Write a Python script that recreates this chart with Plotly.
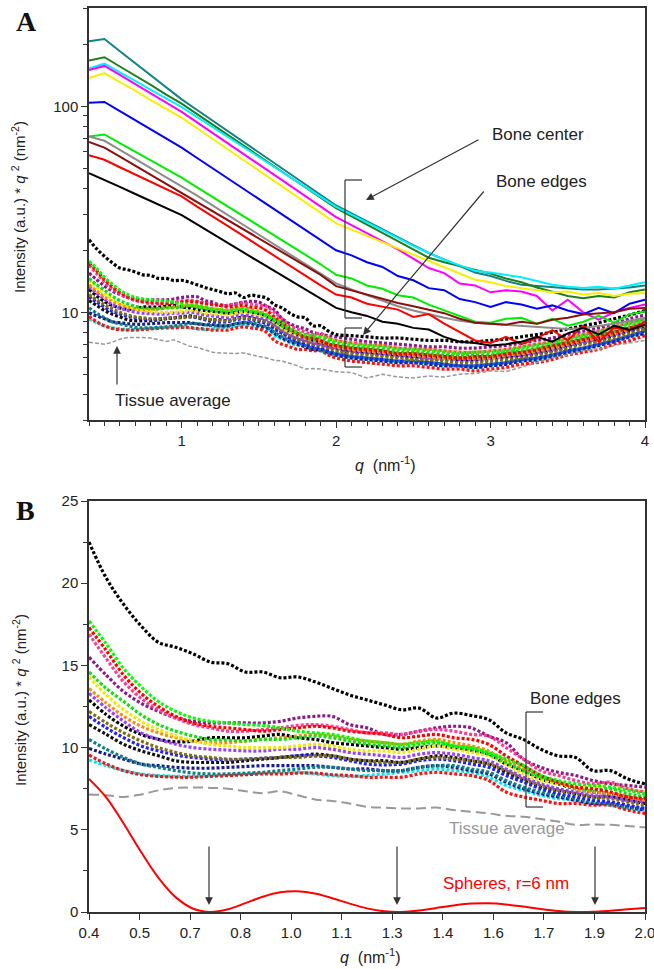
import plotly.graph_objects as go

# ---------------- data ----------------
q_line = [0.4, 0.5, 0.6, 0.7, 0.8, 0.9, 1.0, 1.1, 1.2, 1.3, 1.4, 1.5, 1.6, 1.7, 1.8, 1.9, 2.0,
          2.1, 2.2, 2.3, 2.4, 2.5, 2.6, 2.7, 2.8, 2.9, 3.0, 3.1, 3.2, 3.3, 3.4, 3.5, 3.6, 3.7, 3.8, 3.9, 4.0]

center_teal = [207, 212, 185, 162, 141, 124, 108, 95.9, 85.2, 75.7, 67.2, 59.7, 53.1, 47.1, 41.9, 37.2, 33.0,
               30.2, 27.7, 25.3, 23.2, 21.2, 19.4, 18.0, 16.7, 15.6, 15.0, 14.2, 13.6, 13.4, 13.2, 13.0, 12.9, 12.9, 13.0, 13.2, 13.5]
center_darkgreen = [167, 173, 156, 141, 127, 114, 103, 91.6, 81.5, 72.5, 64.5, 57.4, 51.1, 45.4, 40.4, 36.0, 32.0,
                    29.2, 26.6, 24.3, 22.1, 20.2, 18.4, 17.5, 16.8, 16.0, 15.4, 14.6, 14.0, 13.2, 12.6, 12.0, 11.7, 12.0, 11.8, 12.5, 12.9]
center_cyan = [153, 161, 146, 133, 120, 109, 99, 88.6, 79.3, 70.9, 63.4, 56.7, 50.8, 45.4, 40.6, 36.4, 32.5,
               29.8, 27.3, 25.0, 22.9, 21.0, 19.4, 18.0, 16.9, 15.9, 15.6, 15.2, 14.8, 14.2, 13.6, 13.3, 13.1, 13.3, 13.0, 13.5, 14.0]
center_magenta = [150, 157, 142, 128, 115, 104, 94, 83.6, 74.3, 66.1, 58.8, 52.2, 46.4, 41.3, 36.7, 32.6, 29.0,
                  26.5, 24.2, 22.0, 20.2, 18.2, 16.4, 15.5, 13.8, 13.5, 12.5, 12.8, 12.6, 12.0, 10.2, 11.5, 10.0, 9.2, 10.0, 10.5, 10.9]
center_yellow = [137, 145, 131, 119, 107, 97, 88, 78.2, 69.5, 61.7, 54.8, 48.7, 43.3, 38.5, 34.2, 30.4, 27.0,
                 25.2, 23.5, 21.9, 20.4, 19.0, 17.7, 16.6, 15.5, 14.4, 14.0, 13.4, 13.1, 12.8, 12.5, 12.6, 12.2, 12.4, 12.0, 12.3, 12.4]
center_blue = [104, 105, 94.8, 85.6, 77.3, 69.7, 63, 56.1, 50.0, 44.6, 39.8, 35.4, 31.6, 28.2, 25.1, 22.4, 20.0,
               18.9, 17.5, 16.6, 15.0, 14.3, 13.1, 12.8, 11.6, 11.2, 10.6, 11.2, 10.9, 10.4, 10.8, 10.2, 9.8, 10.5, 9.9, 11.0, 11.5]
center_green = [71.4, 73, 66.2, 60.1, 54.6, 49.5, 45, 40.4, 36.3, 32.6, 29.3, 26.3, 23.6, 21.2, 19.1, 17.1, 15.2,
                14.6, 13.5, 13.0, 12.1, 11.8, 10.9, 10.2, 9.6, 9.0, 8.9, 9.3, 9.4, 8.8, 9.3, 8.6, 9.0, 9.6, 8.9, 9.8, 10.1]
center_gray = [71.4, 68, 61.5, 55.6, 50.2, 45.4, 41, 36.8, 33.0, 29.6, 26.6, 23.8, 21.4, 19.2, 17.2, 15.4, 13.8,
               12.9, 12.1, 11.4, 10.7, 10.2, 9.75, 9.4, 9.1, 8.9, 8.8, 8.7, 8.55, 8.5, 8.4, 8.3, 8.4, 8.6, 8.8, 9.1, 9.4]
center_maroon = [67.1, 63, 56.9, 51.4, 46.5, 42.0, 38, 34.3, 31.0, 28.0, 25.3, 22.9, 20.6, 18.7, 16.9, 15.2, 13.4,
                 12.8, 12.2, 11.6, 11.1, 10.7, 10.3, 9.9, 9.3, 8.9, 8.8, 8.7, 9.0, 8.8, 9.2, 9.4, 9.75, 9.9, 10.0, 10.4, 10.5]
center_red = [57.8, 55, 50.6, 46.6, 43.0, 39.6, 36.5, 32.6, 29.3, 26.2, 23.5, 21.0, 18.8, 16.9, 15.1, 13.5, 12.2,
              11.8, 11.0, 10.6, 10.3, 9.5, 9.8, 8.8, 8.0, 7.3, 7.1, 7.6, 7.0, 7.5, 8.2, 7.3, 8.6, 7.2, 8.4, 8.2, 9.0]
center_black = [47.4, 44, 40.6, 37.5, 34.7, 32.0, 29.6, 26.7, 24.0, 21.7, 19.5, 17.6, 15.9, 14.3, 12.9, 11.6, 10.5,
                10.0, 9.6, 9.0, 8.8, 8.4, 8.24, 7.6, 7.2, 7.1, 6.9, 7.0, 7.2, 7.6, 7.2, 7.9, 8.4, 7.8, 8.6, 8.2, 8.7]

q_edge = [0.40, 0.45, 0.50, 0.55, 0.60, 0.65, 0.70, 0.75, 0.80, 0.85, 0.90, 0.95, 1.00, 1.05, 1.10, 1.15,
          1.20, 1.25, 1.30, 1.35, 1.40, 1.45, 1.50, 1.55, 1.60, 1.65, 1.70, 1.75, 1.80, 1.85, 1.90, 1.95, 2.00,
          2.1, 2.2, 2.3, 2.4, 2.5, 2.6, 2.7, 2.8, 2.9, 3.0, 3.1, 3.2, 3.3, 3.4, 3.5, 3.6, 3.7, 3.8, 3.9, 4.0]

edge_black_top = [22.5, 20.3, 18.7, 17.4, 16.4, 16.1, 15.7, 15.2, 15.1, 14.6, 14.6, 14.25, 14.3, 14.0, 13.6, 13.2,
                  12.9, 12.6, 12.3, 12.4, 11.8, 12.1, 11.95, 11.7, 10.9, 10.5, 9.9, 9.5, 9.4, 8.6, 8.6, 8.1, 7.8,
                  7.7, 7.6, 7.5, 7.5, 7.4, 7.3, 7.3, 7.2, 7.2, 7.3, 7.4, 7.6, 7.8, 8.0, 8.3, 8.6, 8.9, 9.3, 9.7, 10.2]
edge_green = [17.7, 16.3, 14.8, 13.7, 12.8, 12.2, 11.8, 11.6, 11.5, 11.4, 11.35, 11.2, 11.0, 10.9, 10.8, 10.6,
              10.4, 10.3, 10.2, 10.3, 10.4, 10.1, 10.0, 9.7, 9.3, 8.9, 8.3, 8.0, 7.8, 7.7, 7.6, 7.4, 7.2,
              7.0, 6.9, 6.8, 6.6, 6.6, 6.5, 6.4, 6.3, 6.4, 6.4, 6.5, 6.7, 6.9, 7.1, 7.4, 7.7, 8.0, 8.4, 8.8, 9.2]
edge_red = [17.3, 15.9, 14.4, 13.3, 12.5, 11.9, 11.5, 11.3, 11.2, 11.1, 11.0, 11.1, 11.2, 11.3, 11.2, 11.0,
            10.9, 10.8, 10.6, 10.7, 10.8, 10.6, 10.5, 10.2, 9.5, 8.9, 8.3, 7.9, 7.6, 7.5, 7.3, 7.0, 6.9,
            6.7, 6.6, 6.5, 6.3, 6.3, 6.2, 6.1, 6.0, 6.1, 6.1, 6.3, 6.4, 6.6, 6.9, 7.1, 7.4, 7.7, 8.0, 8.4, 8.8]
edge_pink = [16.9, 15.4, 14.0, 13.0, 12.3, 11.8, 11.4, 11.2, 11.0, 11.0, 11.1, 11.2, 11.35, 11.4, 11.3, 11.1,
             10.9, 10.9, 10.8, 11.0, 11.1, 11.0, 10.8, 10.7, 10.0, 9.3, 8.6, 8.3, 8.0, 7.8, 7.9, 7.5, 7.3,
             7.1, 7.0, 6.9, 6.7, 6.7, 6.6, 6.5, 6.4, 6.4, 6.5, 6.6, 6.8, 7.0, 7.2, 7.5, 7.8, 8.1, 8.5, 8.9, 9.3]
edge_purple = [15.5, 14.4, 13.4, 12.7, 12.2, 11.8, 11.6, 11.5, 11.5, 11.5, 11.5, 11.6, 11.8, 11.9, 11.9, 11.4,
               11.2, 10.8, 10.8, 11.0, 11.2, 11.3, 11.2, 10.7, 10.3, 9.3, 8.8, 8.5, 8.3, 8.0, 7.8, 7.7, 7.6,
               7.4, 7.2, 7.1, 7.0, 6.9, 6.8, 6.8, 6.7, 6.7, 6.8, 6.9, 7.1, 7.3, 7.5, 7.8, 8.1, 8.4, 8.8, 9.3, 9.7]
edge_lime = [14.6, 13.6, 12.8, 12.0, 11.4, 11.0, 10.7, 10.5, 10.45, 10.4, 10.5, 10.5, 10.6, 10.7, 10.6, 10.4,
             10.2, 10.1, 10.0, 10.2, 10.3, 10.1, 9.9, 9.6, 9.1, 8.6, 8.2, 7.9, 7.6, 7.4, 7.5, 7.2, 7.0,
             6.8, 6.7, 6.6, 6.4, 6.4, 6.3, 6.2, 6.2, 6.2, 6.2, 6.4, 6.5, 6.7, 6.9, 7.2, 7.5, 7.8, 8.1, 8.5, 9.0]
edge_yellow = [14.3, 13.2, 12.3, 11.6, 11.1, 10.7, 10.4, 10.2, 10.1, 10.0, 10.0, 10.0, 10.1, 10.2, 10.1, 9.9,
               9.8, 9.8, 9.7, 9.9, 10.1, 9.9, 9.7, 9.5, 9.0, 8.4, 8.0, 7.8, 7.6, 7.6, 7.8, 7.5, 7.3,
               7.1, 6.9, 6.9, 6.7, 6.6, 6.6, 6.5, 6.4, 6.4, 6.5, 6.6, 6.8, 7.0, 7.2, 7.5, 7.8, 8.1, 8.5, 8.9, 9.3]
edge_orange = [13.6, 12.7, 11.9, 11.3, 10.9, 10.6, 10.4, 10.3, 10.3, 10.4, 10.5, 10.6, 10.7, 10.8, 10.7, 10.5,
               10.4, 10.3, 10.2, 10.4, 10.5, 10.3, 10.1, 9.8, 9.2, 8.7, 8.2, 7.9, 7.5, 7.3, 7.2, 7.0, 6.8,
               6.6, 6.5, 6.4, 6.3, 6.2, 6.1, 6.0, 6.0, 6.0, 6.0, 6.2, 6.3, 6.5, 6.7, 7.0, 7.3, 7.5, 7.9, 8.3, 8.7]
edge_violet = [13.3, 12.4, 11.6, 10.9, 10.5, 10.2, 10.0, 9.9, 9.85, 9.8, 9.8, 9.9, 9.9, 10.0, 9.9, 9.7,
               9.6, 9.5, 9.4, 9.6, 9.7, 9.6, 9.4, 9.2, 8.7, 8.2, 7.8, 7.5, 7.3, 7.1, 7.0, 6.8, 6.7,
               6.5, 6.4, 6.3, 6.2, 6.1, 6.0, 6.0, 5.9, 5.9, 6.0, 6.1, 6.2, 6.4, 6.6, 6.9, 7.2, 7.4, 7.8, 8.2, 8.6]
edge_black2 = [12.9, 12.0, 11.3, 10.8, 10.5, 10.35, 10.4, 10.6, 10.6, 10.6, 10.7, 10.8, 10.6, 10.5, 10.3, 10.2,
               10.1, 10.0, 9.9, 10.0, 10.1, 10.0, 9.85, 9.6, 9.0, 8.6, 8.1, 7.8, 7.5, 7.3, 7.2, 7.0, 6.8,
               6.6, 6.5, 6.4, 6.3, 6.2, 6.1, 6.1, 6.0, 6.0, 6.1, 6.2, 6.3, 6.5, 6.7, 7.0, 7.3, 7.5, 7.9, 8.3, 8.7]
edge_olive = [12.2, 11.5, 10.9, 10.4, 10.0, 9.7, 9.5, 9.4, 9.3, 9.3, 9.35, 9.4, 9.4, 9.5, 9.5, 9.3,
              9.2, 9.1, 9.1, 9.3, 9.4, 9.3, 9.2, 9.0, 8.6, 8.1, 7.7, 7.4, 7.2, 7.0, 6.9, 6.7, 6.5,
              6.3, 6.2, 6.1, 6.0, 5.9, 5.9, 5.8, 5.7, 5.7, 5.8, 5.9, 6.0, 6.2, 6.4, 6.7, 7.0, 7.2, 7.5, 7.9, 8.3]
edge_blue = [11.9, 11.2, 10.6, 10.1, 9.8, 9.55, 9.4, 9.3, 9.25, 9.3, 9.35, 9.4, 9.5, 9.5, 9.4, 9.2,
             9.0, 8.95, 9.0, 9.2, 9.3, 9.2, 9.0, 8.8, 8.3, 7.9, 7.5, 7.2, 7.0, 6.8, 6.7, 6.5, 6.3,
             6.1, 6.0, 5.9, 5.8, 5.7, 5.7, 5.6, 5.5, 5.5, 5.6, 5.7, 5.9, 6.0, 6.2, 6.5, 6.7, 7.0, 7.3, 7.7, 8.1]
edge_black3 = [11.4, 10.8, 10.2, 9.8, 9.5, 9.2, 9.1, 9.1, 9.1, 9.2, 9.3, 9.4, 9.5, 9.6, 9.5, 9.3,
               9.2, 9.2, 9.1, 9.3, 9.5, 9.4, 9.2, 9.0, 8.5, 8.0, 7.6, 7.4, 7.2, 7.0, 7.0, 6.8, 6.6,
               6.4, 6.3, 6.2, 6.1, 6.0, 5.9, 5.9, 5.8, 5.8, 5.9, 6.0, 6.1, 6.3, 6.5, 6.8, 7.1, 7.3, 7.7, 8.1, 8.4]
edge_teal = [10.5, 9.9, 9.4, 9.0, 8.8, 8.6, 8.45, 8.4, 8.4, 8.45, 8.5, 8.6, 8.7, 8.8, 8.8, 8.7,
             8.6, 8.6, 8.6, 8.8, 8.9, 8.9, 8.7, 8.5, 8.0, 7.6, 7.3, 7.1, 6.9, 6.7, 6.6, 6.4, 6.3,
             6.1, 6.0, 5.9, 5.8, 5.8, 5.7, 5.6, 5.5, 5.5, 5.6, 5.7, 5.9, 6.0, 6.2, 6.5, 6.7, 7.0, 7.3, 7.7, 8.1]
edge_navy = [9.95, 9.6, 9.3, 9.0, 8.9, 8.8, 8.75, 8.75, 8.8, 8.85, 8.9, 8.9, 8.9, 8.9, 8.8, 8.7,
             8.7, 8.6, 8.6, 8.8, 8.9, 8.8, 8.6, 8.4, 7.9, 7.5, 7.2, 7.0, 6.8, 6.6, 6.6, 6.4, 6.2,
             6.0, 5.9, 5.8, 5.7, 5.7, 5.6, 5.5, 5.5, 5.4, 5.5, 5.6, 5.8, 5.9, 6.1, 6.4, 6.6, 6.9, 7.2, 7.6, 7.9]
edge_red2 = [9.55, 9.0, 8.6, 8.35, 8.25, 8.2, 8.2, 8.25, 8.3, 8.35, 8.4, 8.4, 8.45, 8.45, 8.35, 8.3,
             8.2, 8.2, 8.2, 8.4, 8.5, 8.4, 8.3, 8.0, 7.3, 7.0, 6.8, 6.6, 6.6, 6.5, 6.5, 6.2, 6.0,
             5.8, 5.7, 5.6, 5.5, 5.5, 5.4, 5.3, 5.3, 5.2, 5.3, 5.4, 5.6, 5.7, 5.9, 6.2, 6.4, 6.6, 7.0, 7.3, 7.7]
edge_cyan = [9.25, 8.9, 8.6, 8.4, 8.3, 8.25, 8.25, 8.3, 8.35, 8.4, 8.45, 8.5, 8.5, 8.4, 8.3, 8.25,
             8.3, 8.4, 8.5, 8.6, 8.7, 8.6, 8.5, 8.2, 7.7, 7.4, 7.1, 6.9, 6.8, 6.6, 6.5, 6.3, 6.2,
             6.0, 5.9, 5.8, 5.7, 5.7, 5.6, 5.5, 5.5, 5.4, 5.5, 5.6, 5.8, 5.9, 6.1, 6.4, 6.6, 6.9, 7.2, 7.6, 7.9]

tissue_average = [7.15, 7.1, 7.0, 7.15, 7.4, 7.55, 7.58, 7.55, 7.5, 7.35, 7.22, 7.35, 7.1, 6.85, 6.75, 6.6,
                  6.4, 6.35, 6.3, 6.3, 6.35, 6.2, 6.1, 6.0, 5.85, 5.8, 5.65, 5.5, 5.3, 5.33, 5.3, 5.23, 5.15,
                  5.1, 4.8, 5.0, 4.85, 4.8, 4.9, 4.85, 5.0, 5.05, 5.2, 5.15, 5.4, 5.7, 6.0, 6.2, 6.5, 6.6, 6.9, 7.1, 7.3]

q_model = q_edge[:33]
spheres_r6 = [8.10, 6.96, 5.37, 3.65, 2.08, 0.89, 0.20, 0.00, 0.17, 0.54, 0.93, 1.20, 1.26, 1.13, 0.84, 0.51,
              0.22, 0.04, 0.00, 0.09, 0.25, 0.40, 0.51, 0.53, 0.46, 0.33, 0.18, 0.06, 0.00, 0.01, 0.08, 0.17, 0.25]

b_tickvals = [0.4, 0.5455, 0.6909, 0.8364, 0.9818, 1.1273, 1.2727, 1.4182, 1.5636, 1.7091, 1.8545, 2.0]
b_ticktext = ["0.4", "0.5", "0.7", "0.8", "1.0", "1.1", "1.3", "1.4", "1.6", "1.7", "1.9", "2.0"]

# ---------------- styling ----------------
center_series = [
    ("teal", center_teal, "#138383"), ("darkgreen", center_darkgreen, "#1f7f1f"),
    ("cyan", center_cyan, "#00f0ff"), ("magenta", center_magenta, "#ff00ff"),
    ("yellow", center_yellow, "#f5f000"), ("blue", center_blue, "#0000ff"),
    ("green", center_green, "#00ee00"), ("gray", center_gray, "#8c8c8c"),
    ("maroon", center_maroon, "#8b1010"), ("red", center_red, "#ff0000"),
    ("black", center_black, "#000000"),
]
edge_series = [
    ("cyan", edge_cyan, "#00e8f0"), ("red2", edge_red2, "#ff1010"), ("navy", edge_navy, "#1a1a90"),
    ("teal", edge_teal, "#108080"), ("black3", edge_black3, "#111111"), ("blue", edge_blue, "#2020ff"),
    ("olive", edge_olive, "#807010"), ("black2", edge_black2, "#000000"), ("violet", edge_violet, "#9a40ff"),
    ("orange", edge_orange, "#ff8a10"), ("yellow", edge_yellow, "#f0e800"), ("lime", edge_lime, "#10e010"),
    ("purple", edge_purple, "#8a1a8a"), ("pink", edge_pink, "#ff3a90"), ("red", edge_red, "#ff0000"),
    ("green", edge_green, "#00ff00"), ("black_top", edge_black_top, "#000000"),
]

FONT = "Liberation Sans, Arial, sans-serif"
fig = go.Figure()

# Panel A: edges (dots)
for name, vals, col in edge_series:
    fig.add_trace(go.Scatter(x=q_edge, y=vals, mode="lines", xaxis="x", yaxis="y",
                             line=dict(color=col, width=3.2, dash="3px,2px", shape="spline"),
                             showlegend=False, hoverinfo="skip"))
fig.add_trace(go.Scatter(x=q_edge, y=tissue_average, mode="lines", xaxis="x", yaxis="y",
                         line=dict(color="#999999", width=1.5, dash="4px,2px"), showlegend=False))
for name, vals, col in center_series:
    fig.add_trace(go.Scatter(x=q_line, y=vals, mode="lines", xaxis="x", yaxis="y",
                             line=dict(color=col, width=2), showlegend=False))

# Panel B
fig.add_trace(go.Scatter(x=q_edge, y=tissue_average, mode="lines", xaxis="x2", yaxis="y2",
                         line=dict(color="#999999", width=2, dash="10px,5px", shape="spline"), showlegend=False))
for name, vals, col in edge_series:
    fig.add_trace(go.Scatter(x=q_edge, y=vals, mode="lines", xaxis="x2", yaxis="y2",
                             line=dict(color=col, width=3.2, dash="3px,2px", shape="spline"),
                             showlegend=False, hoverinfo="skip"))
fig.add_trace(go.Scatter(x=q_model, y=spheres_r6, mode="lines", xaxis="x2", yaxis="y2",
                         line=dict(color="#ff0000", width=2, shape="spline"), showlegend=False))

# ---------------- layout ----------------
L, R, T, B, W, H = 89, 9, 8, 57, 654, 969
PW, PH = W - L - R, H - T - B
def px(x):
    return (x - L) / PW
def py(y):
    return (H - B - y) / PH

axis_common = dict(showline=True, linecolor="#333333", linewidth=1.5, mirror=True, showgrid=False,
                   zeroline=False, ticks="outside", ticklen=6, tickwidth=1.3, tickcolor="#333333",
                   automargin=False, ticklabeloverflow="allow",
                   tickfont=dict(family=FONT, size=15, color="#222222"))

fig.update_layout(
    width=W, height=H, margin=dict(l=L, r=R, t=T, b=B, autoexpand=False),
    paper_bgcolor="white", plot_bgcolor="white", showlegend=False,
    font=dict(family=FONT, color="#222222"),
    xaxis=dict(domain=[0, 1], anchor="y", range=[0.4, 4.0], tickvals=[1, 2, 3, 4],
               minor=dict(dtick=0.1, ticks="outside", ticklen=4, tickcolor="#333333", tickwidth=1.2),
               **axis_common),
    yaxis=dict(domain=[py(420), 1], anchor="x", type="log", range=[0.4771, 2.4771],
               tickvals=[10, 100], ticktext=["10", "100"],
               minor=dict(tickmode="array", tickvals=[3, 4, 5, 6, 7, 8, 9, 20, 30, 40, 50, 60, 70, 80, 90, 200, 300],
                          ticks="outside", ticklen=4, tickcolor="#333333", tickwidth=1.2),
               **axis_common),
    xaxis2=dict(domain=[0, 1], anchor="y2", range=[0.4, 2.0], tickvals=b_tickvals, ticktext=b_ticktext,
                **axis_common),
    yaxis2=dict(domain=[0, py(501)], anchor="x2", range=[0, 25], dtick=5,
                minor=dict(dtick=2.5, ticks="outside", ticklen=4, tickcolor="#333333", tickwidth=1.2),
                **axis_common),
)

ann = []
def text(x, y, s, size=17, color="#222222", xanchor="center", angle=0, family=FONT):
    ann.append(dict(x=px(x), y=py(y), xref="paper", yref="paper", text=s, showarrow=False,
                    xanchor=xanchor, yanchor="middle", textangle=angle,
                    font=dict(family=family, size=size, color=color)))
def arrow(hx, hy, tx, ty):
    ann.append(dict(x=px(hx), y=py(hy), xref="paper", yref="paper", ax=tx - hx, ay=ty - hy,
                    axref="pixel", ayref="pixel", text="", showarrow=True, arrowhead=2,
                    arrowsize=1.3, arrowwidth=1.2, arrowcolor="#333333"))

ytitle = "Intensity (a.u.) * <i>q</i> <sup>2</sup> (nm<sup>-2</sup>)"
xtitle = "<i>q</i>  (nm<sup>-1</sup>)"
text(19, 207, ytitle, size=15, angle=-90)
text(19, 700, ytitle, size=15, angle=-90)
text(385, 464, xtitle, size=16)
text(370, 956, xtitle, size=16)
text(26, 21, "<b>A</b>", size=28, family="Liberation Serif, Times New Roman, serif", color="#111111")
text(25, 511, "<b>B</b>", size=28, family="Liberation Serif, Times New Roman, serif", color="#111111")

text(538, 135, "Bone center")
arrow(366, 200, 480, 139)
text(541, 181, "Bone edges")
arrow(363, 335, 485, 190)
text(113, 400, "Tissue average", xanchor="left")
arrow(117, 346, 117, 386)

text(575, 698, "Bone edges")
text(507, 828, "Tissue average", color="#999999")
text(506, 883, "Spheres, r=6 nm", color="#ff0000")
for hx in (209, 397, 595):
    arrow(hx, 905, hx, 845)

shapes = []
def seg(x0, y0, x1, y1):
    shapes.append(dict(type="line", xref="paper", yref="paper", x0=px(x0), y0=py(y0), x1=px(x1), y1=py(y1),
                       line=dict(color="#333333", width=1.2)))
# bone center bracket
seg(345, 180, 345, 318); seg(345, 180, 362, 180); seg(345, 318, 362, 318)
# bone edges bracket (A)
seg(345, 328, 345, 367); seg(345, 328, 362, 328); seg(345, 367, 362, 367)
# bone edges bracket (B)
seg(526, 712, 526, 807); seg(526, 712, 543, 712); seg(526, 807, 543, 807)

fig.update_layout(annotations=ann, shapes=shapes)
fig.write_html("out.html", config={"displayModeBar": False},
               post_script="document.body.style.margin='0';document.body.style.padding='0';")
